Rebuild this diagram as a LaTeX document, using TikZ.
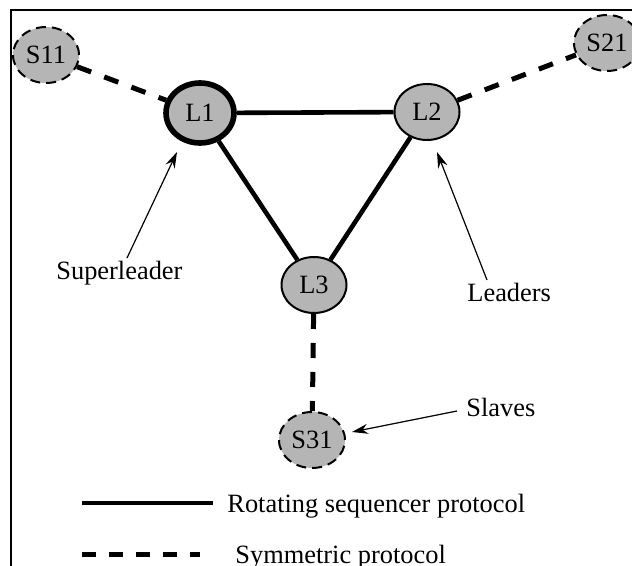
\documentclass[tikz,border=0pt]{standalone}
\usepackage{fontspec}
\setmainfont{Liberation Serif}
\usetikzlibrary{shapes.geometric,arrows.meta}
\definecolor{nodegray}{RGB}{181,181,181}
\tikzset{
  ldr/.style={ellipse,draw,line width=1pt,fill=nodegray,minimum width=32.5pt,minimum height=28pt,inner sep=0pt},
  sup/.style={ldr,line width=2.8pt,minimum width=34pt,minimum height=30pt},
  slv/.style={ellipse,draw,line width=1pt,dash pattern=on 5pt off 3pt,fill=nodegray,minimum width=33pt,minimum height=28pt,inner sep=0pt},
  ring/.style={line width=2.3pt},
  sym/.style={line width=2.5pt,dash pattern=on 7.5pt off 7pt},
  lbl/.style={inner sep=0pt,anchor=base west},
  arr/.style={line width=0.6pt,-{Stealth[length=8pt,width=5pt]}},
  frame/.style={line width=1pt}
}
\begin{document}
\begin{tikzpicture}[x=0.5pt,y=-0.5pt,font=\fontsize{13.2}{15}\selectfont]
\useasboundingbox (0,0) rectangle (632,566);
\draw[frame] (11,580) -- (11,10) -- (650,10);
% nodes
\node[slv] (s11) at (46,55) {S11};
\node[sup] (l1) at (200,113) {L1};
\node[ldr] (l2) at (427,112) {L2};
\node[slv] (s21) at (607,43) {S21};
\node[ldr] (l3) at (314,285) {L3};
\node[slv] (s31) at (312,440) {S31};
% connectors
\draw[ring] (l1) -- (l2);
\draw[ring] (l1) -- (l3);
\draw[ring] (l2) -- (l3);
\draw[sym] (s11) -- (l1);
\draw[sym] (l2) -- (s21);
\draw[sym] (l3) -- (s31);
% labels
\node[lbl] (supl) at (56,280) {Superleader};
\node[lbl] (ldrl) at (467,302) {Leaders};
\node[lbl] (slvl) at (466,417) {Slaves};
\coordinate (supA) at (127,258);
\coordinate (supB) at (177,152);
\coordinate (ldrA) at (487,280);
\coordinate (ldrB) at (437,152);
\coordinate (slvA) at (457,411);
\coordinate (slvB) at (352,432);
\draw[arr] (supA) -- (supB);
\draw[arr] (ldrA) -- (ldrB);
\draw[arr] (slvA) -- (slvB);
% legend
\coordinate (lgA1) at (82,503);
\coordinate (lgA2) at (213,503);
\coordinate (lgB1) at (82,554);
\coordinate (lgB2) at (200,554);
\draw[ring] (lgA1) -- (lgA2);
\draw[line width=2.5pt,dash pattern=on 7pt off 6.5pt] (lgB1) -- (lgB2);
\node[lbl] (lgAt) at (227,513) {Rotating sequencer protocol};
\node[lbl] (lgBt) at (235,563) {Symmetric protocol};
\end{tikzpicture}
\end{document}
